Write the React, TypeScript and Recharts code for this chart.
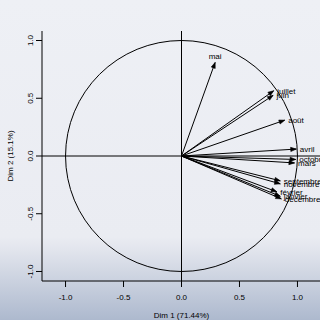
import { ScatterChart, Scatter, XAxis, YAxis, ReferenceLine } from 'recharts';

// months are the variables of the PCA
const months = ['janvier', 'février', 'mars', 'avril', 'mai', 'juin', 'juillet', 'août', 'septembre', 'octobre', 'novembre', 'décembre'];
const dim1 = [0.852, 0.822, 0.975, 0.99, 0.29, 0.79, 0.795, 0.89, 0.852, 0.985, 0.852, 0.861];
const dim2 = [-0.349, -0.31, -0.06, 0.06, 0.81, 0.525, 0.565, 0.31, -0.215, -0.03, -0.241, -0.371];
const axisTicks = [-1, -0.5, 0, 0.5, 1];

const points = months.map((name, i) => ({ name, x: dim1[i], y: dim2[i] }));

const FONT = '"Liberation Sans", Arial, sans-serif';

const Arrow = (p: any) => {
  const { x1, y1, x2, y2 } = p;
  const a = Math.atan2(y2 - y1, x2 - x1);
  const len = 6;
  const w = 0.36;
  const pts = [
    [x2, y2],
    [x2 - len * Math.cos(a - w), y2 - len * Math.sin(a - w)],
    [x2 - len * Math.cos(a + w), y2 - len * Math.sin(a + w)],
  ]
    .map((q) => q.join(','))
    .join(' ');
  return (
    <g>
      <line x1={x1} y1={y1} x2={x2} y2={y2} stroke="#000" strokeWidth={1} />
      <polygon points={pts} fill="#000" stroke="#000" strokeWidth={0.6} />
    </g>
  );
};

// unit circle drawn from the segment (-1,-1) -> (1,1)
const Circle = (p: any) => {
  const { x1, y1, x2, y2 } = p;
  return (
    <ellipse
      cx={(x1 + x2) / 2}
      cy={(y1 + y2) / 2}
      rx={Math.abs(x2 - x1) / 2}
      ry={Math.abs(y2 - y1) / 2}
      fill="none"
      stroke="#000"
      strokeWidth={1}
    />
  );
};

const VarLabel = (p: any) => {
  const { cx, cy, payload } = p;
  if (Math.abs(payload.x) < 0.5) {
    return (
      <text x={cx} y={cy - 3} textAnchor="middle" fontSize={8} fontFamily={FONT} fill="#000">
        {payload.name}
      </text>
    );
  }
  return (
    <text x={cx + 3.5} y={cy} dy="0.35em" textAnchor="start" fontSize={8} fontFamily={FONT} fill="#000">
      {payload.name}
    </text>
  );
};

const YTick = (p: any) => {
  const { x, y, payload } = p;
  return (
    <text
      x={x}
      y={y}
      transform={`rotate(-90, ${x}, ${y})`}
      textAnchor="middle"
      fontSize={8}
      fontFamily={FONT}
      fill="#000"
    >
      {payload.value.toFixed(1)}
    </text>
  );
};

export default function App() {
  return (
    <div
      style={{
        position: 'fixed',
        left: 0,
        top: 0,
        width: 320,
        height: 320,
        overflow: 'hidden',
        background: 'linear-gradient(to bottom, #eef0f5 0%, #eaecf2 74%, #e2e5ed 78%, #adb9ce 100%)',
      }}
    >
      <ScatterChart width={321} height={320} margin={{ top: 31, right: 0, bottom: 0, left: 0 }}>
        <XAxis
          xAxisId="top"
          orientation="top"
          type="number"
          domain={[-1.203, 1.203]}
          allowDataOverflow
          height={0}
          tick={false}
          tickLine={false}
          axisLine={{ stroke: '#000' }}
          label={{
            content: (props: any) => {
              const vb = props.viewBox;
              return (
                <text x={vb.x + vb.width / 2} y={15} textAnchor="middle" fontSize={9} fontWeight="bold" fontFamily={FONT} fill="#000">
                  Variables factor map (PCA)
                </text>
              );
            },
          }}
        />
        <XAxis
          type="number"
          dataKey="x"
          domain={[-1.203, 1.203]}
          allowDataOverflow
          ticks={axisTicks}
          interval={0}
          height={39}
          tickSize={6}
          tickMargin={7}
          tickFormatter={(v: number) => v.toFixed(1)}
          tick={{ fontSize: 8, fill: '#000', fontFamily: FONT }}
          tickLine={{ stroke: '#000' }}
          axisLine={{ stroke: '#000' }}
          label={{ value: 'Dim 1 (71.44%)', position: 'insideBottom', offset: 2, fontSize: 8, fill: '#000', fontFamily: FONT }}
        />
        <YAxis
          type="number"
          dataKey="y"
          domain={[-1.0823, 1.0823]}
          allowDataOverflow
          ticks={axisTicks}
          interval={0}
          width={42}
          tickSize={6}
          tickMargin={3}
          tick={<YTick />}
          tickLine={{ stroke: '#000' }}
          axisLine={{ stroke: '#000' }}
          label={{
            content: (props: any) => {
              const vb = props.viewBox;
              const cy = vb.y + vb.height / 2;
              return (
                <text x={13} y={cy} transform={`rotate(-90, 13, ${cy})`} textAnchor="middle" fontSize={8} fontFamily={FONT} fill="#000">
                  Dim 2 (15.1%)
                </text>
              );
            },
          }}
        />
        <ReferenceLine x={0} stroke="#000" strokeWidth={1} />
        <ReferenceLine y={0} stroke="#000" strokeWidth={1} />
        <ReferenceLine segment={[{ x: -1, y: -1 }, { x: 1, y: 1 }]} shape={<Circle />} />
        {points.map((pt) => (
          <ReferenceLine key={pt.name} segment={[{ x: 0, y: 0 }, { x: pt.x, y: pt.y }]} shape={<Arrow />} />
        ))}
        <Scatter data={points} shape={<VarLabel />} isAnimationActive={false} />
      </ScatterChart>
    </div>
  );
}
